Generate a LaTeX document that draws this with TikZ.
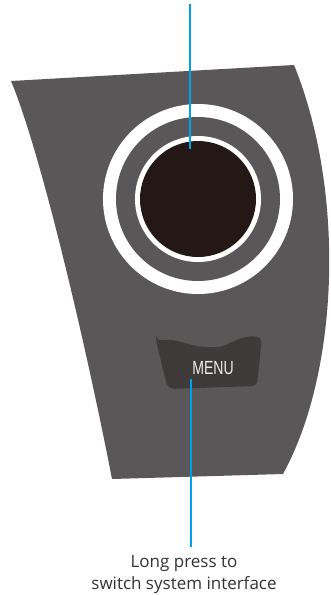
\documentclass[tikz,border=0pt]{standalone}
\usepackage{fontspec}
\setmainfont{Open Sans}
\newfontfamily\menufont[FakeStretch=0.74]{Liberation Sans}
\usetikzlibrary{calc}
\definecolor{panelgray}{HTML}{595757}
\definecolor{btngray}{HTML}{3E3A39}
\definecolor{knobblack}{HTML}{231815}
\definecolor{callblue}{HTML}{00A0E9}
\definecolor{labgray}{HTML}{333333}

\begin{document}
\begin{tikzpicture}[
  x=1pt, y=-1pt,
  panel/.style={fill=panelgray},
  disc/.style={circle,inner sep=0pt,draw=none},
  btn/.style={fill=btngray,rounded corners=6pt},
  callout/.style={draw=callblue,line width=2.4pt},
  menulab/.style={font=\menufont\fontsize{19}{20}\selectfont,text=white!92!black},
  desc/.style={font=\fontsize{17}{22}\selectfont,text=labgray,align=center,inner sep=0pt},
]
  \useasboundingbox (0,0) rectangle (330,595);
  \fill[panel] (11,81) -- (294,65) .. controls (345,190) and (340,370) .. (283,474)
     -- (112,479) .. controls (85,340) and (40,150) .. cycle;
  \node[disc,fill=white,minimum size=190pt] (ringout) at (198,199) {};
  \node[disc,fill=panelgray,minimum size=164pt] (ringgap) at (ringout) {};
  \node[disc,fill=white,minimum size=126pt] (ringin) at (ringout) {};
  \node[disc,fill=knobblack,minimum size=116pt] (knob) at (ringout) {};
  \fill[btn] (156,341) -- (168,389) -- (257,386) -- (262,337)
     .. controls (236,335) and (228,348) .. (208,347)
     .. controls (188,346) and (178,338) .. cycle;
  \node[menulab] (menu) at (213,368) {MENU};
  \node[desc,anchor=north] (lab) at (184,555) {Long press to\\switch system interface};
  \coordinate (knobpin) at (190,4);
  \coordinate (knobend) at (190,149);
  \coordinate (menupin) at (191,379);
  \draw[callout] (knobpin) -- (knobend);
  \draw[callout] (menupin) -- ($(menupin |- lab.north)+(0,-8)$);
\end{tikzpicture}
\end{document}
